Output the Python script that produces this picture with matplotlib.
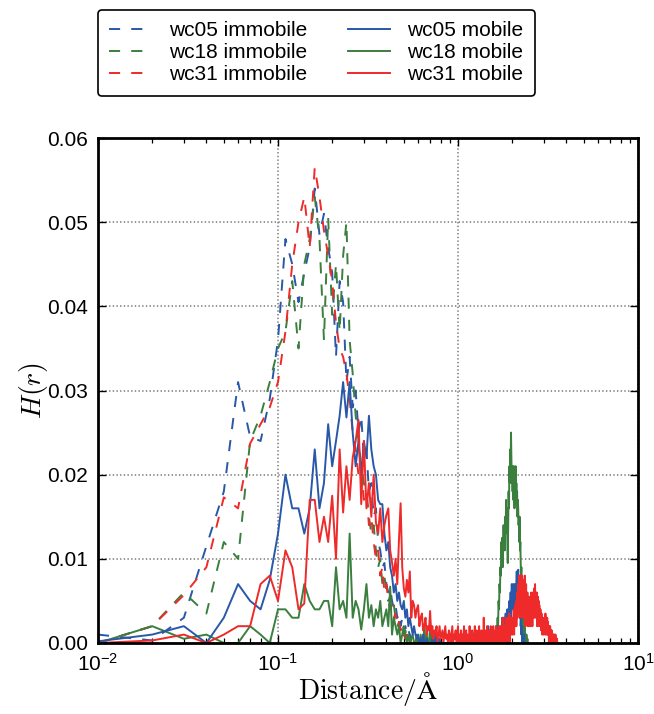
import numpy as np
import matplotlib
matplotlib.use("Agg")
import matplotlib.pyplot as plt
from matplotlib.ticker import FormatStrFormatter

plt.rcParams['font.family'] = ['Liberation Sans', 'DejaVu Sans']
plt.rcParams['mathtext.fontset'] = 'custom'
plt.rcParams['mathtext.rm'] = 'Liberation Sans'
plt.rcParams['mathtext.it'] = 'Liberation Sans:italic'
plt.rcParams['mathtext.bf'] = 'Liberation Sans:bold'
plt.rcParams['lines.scale_dashes'] = False

# histogram bin width (distance in Angstrom); value i belongs to distance (i+1)*bin_width
bin_width = 0.01

wc05_immobile = [
    0.001, 0.0003, 0.003, 0.0115, 0.018, 0.031, 0.0245, 0.024, 0.029, 0.036,
    0.048, 0.045, 0.0405, 0.044, 0.047, 0.054, 0.0485, 0.051, 0.047, 0.044,
    0.034, 0.043, 0.0405, 0.031, 0.034, 0.028, 0.030, 0.025, 0.027, 0.022,
    0.023, 0.018, 0.019, 0.015, 0.016, 0.012, 0.011, 0.009, 0.0095, 0.007,
    0.006, 0.0065, 0.005, 0.004, 0.0045, 0.003, 0.0035, 0.002, 0.003, 0.0015,
    0.002, 0.001, 0.0015, 0.001, 0.0005, 0.001, 0.0005, 0.0, 0.0005, 0.0,
]
wc18_immobile = [
    0.0, 0.002, 0.006, 0.0035, 0.012, 0.010, 0.024, 0.027, 0.031, 0.035,
    0.037, 0.043, 0.035, 0.045, 0.048, 0.053, 0.048, 0.036, 0.0505, 0.039,
    0.045, 0.037, 0.046, 0.050, 0.036, 0.032, 0.027, 0.024, 0.021, 0.019,
    0.018, 0.015, 0.013, 0.014, 0.011, 0.009, 0.010, 0.007, 0.008, 0.006,
    0.005, 0.0055, 0.004, 0.0045, 0.003, 0.002, 0.0025, 0.0015, 0.002, 0.001,
    0.0015, 0.0005, 0.001, 0.0, 0.0005, 0.0,
]
wc31_immobile = [
    0.0, 0.002, 0.0057, 0.009, 0.0173, 0.016, 0.0237, 0.026, 0.028, 0.031,
    0.037, 0.045, 0.050, 0.053, 0.047, 0.0565, 0.053, 0.049, 0.046, 0.043,
    0.038, 0.035, 0.034, 0.032, 0.029, 0.025, 0.023, 0.020, 0.021, 0.017,
    0.018, 0.014, 0.015, 0.012, 0.010, 0.011, 0.008, 0.009, 0.006, 0.007,
    0.005, 0.004, 0.0045, 0.003, 0.0035, 0.002, 0.0025, 0.0015, 0.002, 0.001,
    0.0005, 0.001, 0.0, 0.0005, 0.0,
]
wc05_mobile = [
    0.0002, 0.001, 0.002, 0.0, 0.003, 0.007, 0.005, 0.004, 0.0075, 0.013,
    0.020, 0.016, 0.016, 0.013, 0.016, 0.023, 0.016, 0.019, 0.026, 0.021,
    0.024, 0.027, 0.031, 0.0268, 0.031, 0.025, 0.021, 0.024, 0.020, 0.024,
    0.022, 0.027, 0.023, 0.021, 0.020, 0.017, 0.0165, 0.0165, 0.013, 0.011,
    0.012, 0.009, 0.008, 0.006, 0.007, 0.005, 0.006, 0.0045, 0.004, 0.005,
    0.003, 0.004, 0.002, 0.003, 0.002, 0.001, 0.002, 0.001, 0.0005, 0.001,
    0.0, 0.0005, 0.0, 0.001, 0.0, 0.0, 0.0005, 0.0, 0.0, 0.0,
    0.0, 0.0005, 0.0, 0.0, 0.001, 0.0, 0.0, 0.0, 0.0005, 0.0,
    0.0, 0.0, 0.0, 0.0, 0.0, 0.0, 0.0, 0.0, 0.0, 0.0,
    0.0, 0.0, 0.0, 0.0, 0.0, 0.0, 0.0, 0.0, 0.0, 0.0,
    0.0, 0.0, 0.0, 0.0, 0.0, 0.0, 0.0, 0.0, 0.0, 0.0,
    0.0, 0.0, 0.0, 0.0, 0.0, 0.0, 0.0, 0.0, 0.0, 0.0,
    0.0, 0.0, 0.0, 0.0, 0.0, 0.0, 0.0005, 0.0, 0.0, 0.0,
    0.0, 0.0, 0.0, 0.0, 0.0, 0.0, 0.0, 0.0, 0.0, 0.001,
    0.0, 0.0, 0.0, 0.001, 0.0, 0.0, 0.002, 0.0, 0.0, 0.001,
    0.0, 0.0, 0.001, 0.0, 0.0, 0.001, 0.0, 0.0, 0.0, 0.001,
    0.0, 0.001, 0.002, 0.0, 0.001, 0.001, 0.0, 0.002, 0.001, 0.001,
    0.001, 0.0, 0.002, 0.001, 0.0015, 0.003, 0.001, 0.002, 0.003, 0.001,
    0.002, 0.003, 0.002, 0.0035, 0.001, 0.003, 0.002, 0.004, 0.003, 0.002,
    0.004, 0.003, 0.005, 0.002, 0.004, 0.006, 0.003, 0.005, 0.007, 0.004,
    0.006, 0.004, 0.007, 0.005, 0.003, 0.006, 0.007, 0.004, 0.006, 0.005,
    0.007, 0.0085, 0.005, 0.008, 0.006, 0.0087, 0.005, 0.007, 0.004, 0.006,
    0.003, 0.005, 0.002, 0.003, 0.001, 0.002, 0.0, 0.001, 0.0, 0.001,
    0.0, 0.0, 0.001, 0.0, 0.0,
]
wc18_mobile = [
    0.0, 0.002, 0.0005, 0.001, 0.0, 0.0, 0.002, 0.001, 0.0, 0.004,
    0.004, 0.003, 0.003, 0.007, 0.005, 0.004, 0.004, 0.005, 0.005, 0.002,
    0.009, 0.004, 0.005, 0.003, 0.013, 0.003, 0.005, 0.004, 0.0016, 0.004,
    0.007, 0.003, 0.0045, 0.002, 0.004, 0.003, 0.005, 0.002, 0.003, 0.004,
    0.002, 0.0067, 0.001, 0.003, 0.002, 0.001, 0.002, 0.0, 0.001, 0.002,
    0.001, 0.0, 0.001, 0.0, 0.0005, 0.001, 0.0, 0.0, 0.001, 0.0,
    0.0, 0.001, 0.0, 0.0, 0.002, 0.0, 0.001, 0.0, 0.0, 0.002,
    0.0, 0.001, 0.0, 0.0, 0.0, 0.0, 0.001, 0.0, 0.0, 0.0,
    0.0, 0.0, 0.0, 0.0, 0.0, 0.0, 0.0, 0.0, 0.0, 0.0,
    0.0, 0.0, 0.0, 0.0, 0.0, 0.0, 0.0, 0.0, 0.0, 0.0,
    0.0, 0.0, 0.0, 0.0, 0.0, 0.0, 0.0, 0.0, 0.0, 0.0,
    0.0, 0.0, 0.0, 0.0, 0.0, 0.0, 0.0, 0.0, 0.0, 0.0,
    0.0, 0.0, 0.0, 0.0, 0.0, 0.0, 0.0, 0.0, 0.0, 0.0,
    0.0, 0.0, 0.0, 0.0, 0.0, 0.0, 0.0, 0.0, 0.0, 0.0,
    0.0, 0.0, 0.0, 0.0, 0.001, 0.0, 0.0, 0.001, 0.0, 0.0,
    0.0, 0.0, 0.0, 0.0, 0.0, 0.0, 0.0, 0.001, 0.0, 0.0,
    0.001, 0.0, 0.002, 0.001, 0.002, 0.003, 0.002, 0.005, 0.004, 0.007,
    0.006, 0.009, 0.008, 0.012, 0.010, 0.0125, 0.009, 0.011, 0.014, 0.012,
    0.0138, 0.011, 0.015, 0.013, 0.017, 0.014, 0.016, 0.012, 0.0095, 0.014,
    0.018, 0.016, 0.021, 0.019, 0.023, 0.020, 0.025, 0.022, 0.019, 0.0205,
    0.018, 0.021, 0.017, 0.019, 0.021, 0.016, 0.020, 0.018, 0.021, 0.017,
    0.019, 0.0165, 0.018, 0.015, 0.017, 0.016, 0.014, 0.015, 0.012, 0.015,
    0.011, 0.012, 0.0095, 0.008, 0.009, 0.006, 0.005, 0.004, 0.003, 0.004,
    0.002, 0.003, 0.002, 0.001, 0.002, 0.001, 0.0005, 0.001, 0.0, 0.001,
    0.0, 0.0, 0.0005, 0.0, 0.0,
]
wc31_mobile = [
    0.0, 0.0003, 0.001, 0.0, 0.001, 0.002, 0.002, 0.007, 0.008, 0.005,
    0.011, 0.009, 0.004, 0.0047, 0.017, 0.017, 0.012, 0.015, 0.012, 0.0175,
    0.010, 0.023, 0.0155, 0.021, 0.017, 0.022, 0.024, 0.0265, 0.0165, 0.024,
    0.016, 0.019, 0.015, 0.020, 0.0143, 0.013, 0.016, 0.012, 0.014, 0.0152,
    0.016, 0.011, 0.0096, 0.008, 0.010, 0.007, 0.0123, 0.0166, 0.009, 0.0065,
    0.0055, 0.0075, 0.006, 0.0085, 0.003, 0.005, 0.0045, 0.003, 0.004, 0.0045,
    0.002, 0.003, 0.0035, 0.0015, 0.002, 0.003, 0.001, 0.002, 0.0015, 0.0038,
    0.001, 0.002, 0.0005, 0.0015, 0.001, 0.002, 0.0, 0.001, 0.002, 0.0005,
    0.001, 0.0015, 0.0, 0.001, 0.002, 0.0005, 0.001, 0.0, 0.0015, 0.001,
    0.0, 0.001, 0.002, 0.0, 0.001, 0.0005, 0.0015, 0.0, 0.001, 0.002,
    0.0, 0.001, 0.0, 0.0015, 0.0, 0.001, 0.0, 0.002, 0.0, 0.001,
    0.0015, 0.0, 0.001, 0.0, 0.0, 0.002, 0.0, 0.001, 0.0, 0.0015,
    0.0, 0.001, 0.0, 0.002, 0.0, 0.0, 0.0015, 0.0, 0.001, 0.0,
    0.002, 0.0, 0.001, 0.0, 0.0015, 0.0, 0.001, 0.0, 0.003, 0.0,
    0.001, 0.0, 0.0015, 0.0, 0.002, 0.0, 0.001, 0.0, 0.0015, 0.001,
    0.0, 0.002, 0.0, 0.001, 0.0015, 0.0, 0.002, 0.0, 0.001, 0.0,
    0.0015, 0.0, 0.002, 0.001, 0.0, 0.0015, 0.0, 0.001, 0.002, 0.0,
    0.001, 0.0, 0.0015, 0.002, 0.0, 0.001, 0.003, 0.0, 0.0015, 0.001,
    0.0, 0.002, 0.001, 0.003, 0.0, 0.0015, 0.002, 0.001, 0.003, 0.0,
    0.002, 0.001, 0.0035, 0.0, 0.002, 0.0015, 0.003, 0.001, 0.0025, 0.002,
    0.001, 0.003, 0.002, 0.004, 0.001, 0.003, 0.002, 0.0045, 0.003, 0.005,
    0.002, 0.004, 0.006, 0.003, 0.005, 0.007, 0.004, 0.006, 0.008, 0.005,
    0.003, 0.006, 0.0081, 0.004, 0.007, 0.005, 0.008, 0.003, 0.006, 0.004,
    0.0075, 0.005, 0.003, 0.006, 0.008, 0.004, 0.002, 0.005, 0.007, 0.003,
    0.005, 0.0035, 0.006, 0.002, 0.004, 0.005, 0.003, 0.0055, 0.002, 0.004,
    0.003, 0.005, 0.002, 0.0045, 0.006, 0.003, 0.005, 0.0035, 0.002, 0.004,
    0.006, 0.003, 0.005, 0.0045, 0.0065, 0.003, 0.005, 0.007, 0.004, 0.006,
    0.003, 0.0055, 0.004, 0.006, 0.002, 0.005, 0.0035, 0.0055, 0.003, 0.004,
    0.005, 0.002, 0.0045, 0.003, 0.0035, 0.002, 0.004, 0.0025, 0.003, 0.0015,
    0.0035, 0.002, 0.003, 0.001, 0.0025, 0.003, 0.0015, 0.002, 0.001, 0.0025,
    0.003, 0.0015, 0.002, 0.003, 0.001, 0.0035, 0.0015, 0.002, 0.003, 0.001,
    0.0025, 0.0015, 0.003, 0.001, 0.002, 0.0025, 0.001, 0.002, 0.0015, 0.0,
    0.002, 0.001, 0.0015, 0.0, 0.002, 0.001, 0.0005, 0.0015, 0.001, 0.0,
    0.001, 0.0015, 0.0005, 0.001, 0.0, 0.001, 0.0005, 0.001, 0.0, 0.0005,
    0.001, 0.0, 0.0005, 0.001, 0.0, 0.0005, 0.0, 0.001, 0.0, 0.0005,
    0.0, 0.0005, 0.0, 0.0, 0.0005, 0.0, 0.0, 0.0, 0.0, 0.0,
]

series_labels = ['wc05 immobile', 'wc18 immobile', 'wc31 immobile',
                 'wc05 mobile', 'wc18 mobile', 'wc31 mobile']
y_ticks = [0.00, 0.01, 0.02, 0.03, 0.04, 0.05, 0.06]

BLUE = '#2A58A8'
GREEN = '#3A7F3E'
RED = '#EE2A2A'
DASH = (8, 8)
LW = 1.4


def dist(vals):
    return bin_width * np.arange(1, len(vals) + 1)


fig = plt.figure(figsize=(6.54, 7.14), dpi=100)
ax = fig.add_axes([98 / 654, 71 / 714, 540 / 654, 505 / 714])

h = {}
h[0], = ax.plot(dist(wc05_immobile), wc05_immobile, color=BLUE, lw=LW, dashes=DASH, zorder=2)
h[1], = ax.plot(dist(wc18_immobile), wc18_immobile, color=GREEN, lw=LW, dashes=DASH, zorder=2)
h[2], = ax.plot(dist(wc31_immobile), wc31_immobile, color=RED, lw=LW, dashes=DASH, zorder=2)
h[4], = ax.plot(dist(wc18_mobile), wc18_mobile, color=GREEN, lw=LW, zorder=2.1)
h[3], = ax.plot(dist(wc05_mobile), wc05_mobile, color=BLUE, lw=LW, zorder=2.2)
h[5], = ax.plot(dist(wc31_mobile), wc31_mobile, color=RED, lw=LW, zorder=2.3)

ax.set_xscale('log')
ax.set_xlim(0.01, 10)
ax.set_ylim(0, 0.06)
ax.set_yticks(y_ticks)
ax.yaxis.set_major_formatter(FormatStrFormatter('%.2f'))

ax.grid(True, which='major', linestyle=':', color='#777777', linewidth=1.1)
ax.set_axisbelow(True)
ax.tick_params(which='both', direction='in', top=True, right=True,
               labelsize=15, color='black')
ax.tick_params(which='major', length=6, width=1.0, pad=7)
ax.tick_params(which='minor', length=3.5, width=0.9)
for sp in ax.spines.values():
    sp.set_linewidth(2.0)
    sp.set_color('black')

ax.set_xlabel(r'$\mathrm{Distance/\AA}$', fontsize=20, math_fontfamily='cm', labelpad=-3)
ax.set_ylabel(r'$H(r)$', fontsize=20, math_fontfamily='cm', labelpad=-2)

leg = fig.legend([h[i] for i in range(6)], series_labels, ncol=2,
                 loc='upper left', bbox_to_anchor=(98 / 654, 1 - 10 / 714),
                 bbox_transform=fig.transFigure, borderaxespad=0.0, fontsize=15,
                 handlelength=2.05, handletextpad=0.8, columnspacing=1.95,
                 labelspacing=0.14, borderpad=0.55, frameon=True, fancybox=True)
leg.get_frame().set_edgecolor('black')
leg.get_frame().set_linewidth(1.2)
leg.get_frame().set_alpha(1)

fig.savefig('out.png', dpi=100)
